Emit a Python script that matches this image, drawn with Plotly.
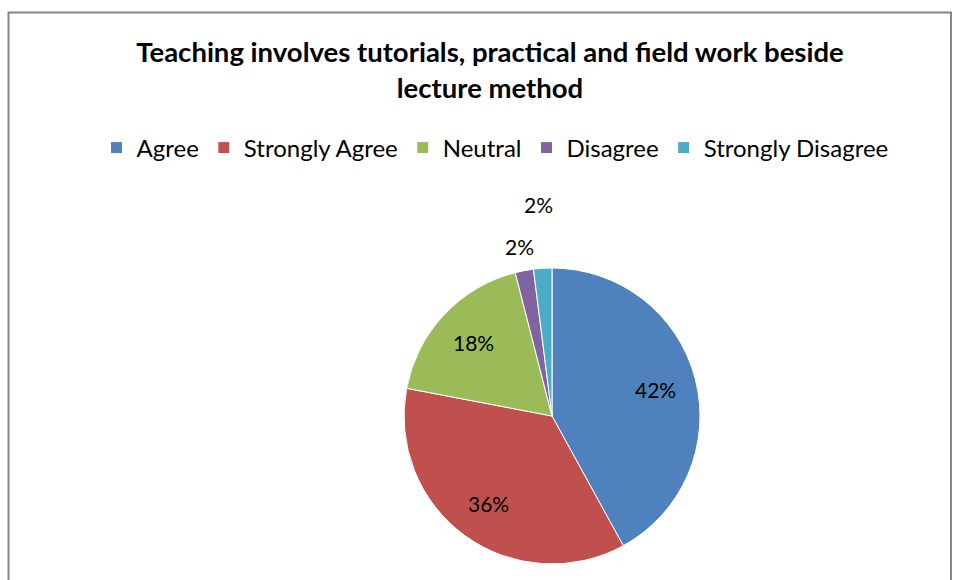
import math
import plotly.graph_objects as go

categories = ["Agree", "Strongly Agree", "Neutral", "Disagree", "Strongly Disagree"]
values = [42, 36, 18, 2, 2]
colors = ["#4F81BD", "#C0504D", "#9BBB59", "#8064A2", "#4BACC6"]
label_offsets = [-41, -40, -40, 25, 64]  # label distance from the rim, px

W, H = 955, 580
FONT = "Lato"
CX, CY, R = 552, 416, 148  # pie centre / radius in px (from top-left)

fig = go.Figure(go.Pie(
    labels=categories,
    values=values,
    sort=False,
    direction="clockwise",
    rotation=0,
    marker=dict(colors=colors, line=dict(color="white", width=1)),
    textinfo="none",
    domain=dict(x=[(CX - R) / W, (CX + R) / W], y=[(H - CY - R) / H, (H - CY + R) / H]),
    hoverinfo="label+percent",
))

# percentage labels placed at each slice's mid-angle
total = sum(values)
annotations = []
cum = 0
for v, off in zip(values, label_offsets):
    mid = (cum + v / 2) / total * 2 * math.pi
    cum += v
    r = R + off
    x = CX + r * math.sin(mid)
    y = CY - r * math.cos(mid)
    annotations.append(dict(
        x=x / W, y=1 - y / H, xref="paper", yref="paper",
        text=f"{v / total:.0%}", showarrow=False,
        font=dict(family=FONT, size=21, color="black"),
        xanchor="center", yanchor="middle",
    ))

fig.update_layout(
    width=W, height=H,
    margin=dict(l=0, r=0, t=0, b=0),
    paper_bgcolor="white",
    plot_bgcolor="white",
    title=dict(
        text="<b>Teaching involves tutorials, practical and field work beside<br>lecture method</b>",
        x=490 / W, xanchor="center", y=1 - 62 / H, yanchor="top",
        font=dict(family=FONT, size=27.5, color="black"),
    ),
    legend=dict(
        orientation="h", x=495 / W, xanchor="center", y=1 - 148 / H, yanchor="middle",
        font=dict(family=FONT, size=24, color="black"),
    ),
    font=dict(family=FONT),
    annotations=annotations,
    shapes=[dict(type="rect", xref="paper", yref="paper",
                 x0=8.5 / W, x1=951 / W, y0=-0.1, y1=1 - 12.5 / H,
                 line=dict(color="#868686", width=2), layer="below")],
)

fig.write_html(
    "out.html",
    config={"displayModeBar": False},
    post_script="document.body.style.margin='0';document.body.style.overflow='hidden';",
)
